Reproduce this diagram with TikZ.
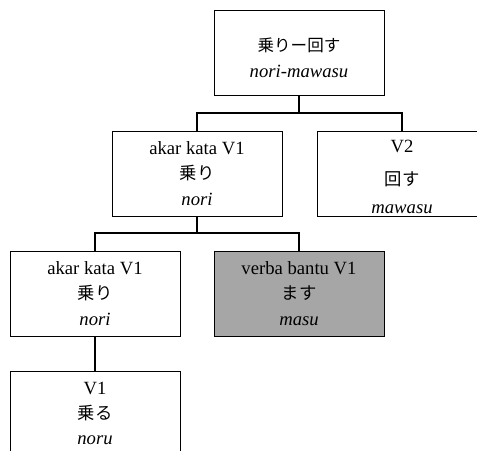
\documentclass[tikz,border=0pt]{standalone}
\usepackage{fontspec}
\setmainfont{Liberation Serif}
\newfontfamily\jp{Noto Sans CJK JP}
\newcommand\jpl[1]{{\fontsize{13}{19}\jp #1}}
\begin{document}
\begin{tikzpicture}[x=0.75pt,y=-0.75pt,
  box/.style={draw, line width=0.7pt, fill=white,
    minimum width=127.5pt, minimum height=63.75pt, inner sep=0pt,
    align=center, font=\fontsize{14}{19}\selectfont},
  shaded/.style={box, fill=gray!70},
  conn/.style={line width=1.3pt}]
  \path[use as bounding box] (0,0) rectangle (477,450);
  \clip (0,0) rectangle (477,450);
  \fill[white] (0,0) rectangle (477,450);

  % word tree for nori-mawasu
  \node[box] (top) at (299,52.5)
    {\rule{0pt}{18pt}{\fontsize{12.4}{15}\jp 乗りー回す}\\\textit{nori-mawasu}};
  \node[box] (ml) at (197,173.5) {akar kata V1\\\jpl{乗り}\\\textit{nori}};
  \node[box] (mr) at (402,173.5)
    {\rule{0pt}{14pt}V2\\[6pt]\jpl{回す}\\[2pt]\textit{mawasu}};
  \node[box] (ll) at (95,293.5) {akar kata V1\\\jpl{乗り}\\\textit{nori}};
  \node[shaded] (gr) at (299,293.5) {verba bantu V1\\\jpl{ます}\\\textit{masu}};
  \node[box] (bt) at (95,413.5) {V1\\\jpl{乗る}\\\textit{noru}};

  % branch junctions
  \coordinate (j1) at (299,113);
  \coordinate (j2) at (197,233);

  \draw[conn] (top.south) -- (j1);
  \draw[conn] (ml.north) -- (ml.north |- j1) -- (mr.north |- j1) -- (mr.north);
  \draw[conn] (ml.south) -- (j2);
  \draw[conn] (ll.north) -- (ll.north |- j2) -- (gr.north |- j2) -- (gr.north);
  \draw[conn] (ll.south) -- (bt.north);
\end{tikzpicture}
\end{document}
